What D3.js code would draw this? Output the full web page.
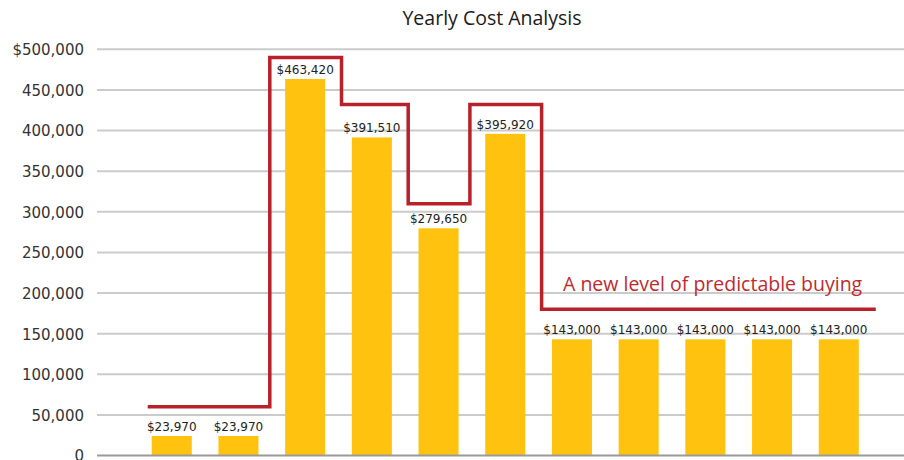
<!DOCTYPE html>
<html>
<head>
<meta charset="utf-8">
<script src="https://cdn.jsdelivr.net/npm/d3@7"></script>
<style>
  body { margin: 0; background: #fff; }
  svg { display: block; }
</style>
</head>
<body>
<div id="chart"></div>
<script>
// Step 1: data
var years = ["Y1", "Y2", "Y3", "Y4", "Y5", "Y6", "Y7", "Y8", "Y9", "Y10", "Y11"];
var costs = [23970, 23970, 463420, 391510, 279650, 395920, 143000, 143000, 143000, 143000, 143000];
// red "budget" step line, one level per year
var levels = [60000, 60000, 490000, 432000, 310000, 432000, 180000, 180000, 180000, 180000, 180000];
var yTicks = [0, 50000, 100000, 150000, 200000, 250000, 300000, 350000, 400000, 450000, 500000];
var yTickLabels = ["0", "50,000", "100,000", "150,000", "200,000", "250,000", "300,000", "350,000", "400,000", "450,000", "$500,000"];

var svgWidth = 904;
var svgHeight = 460;

var svg = d3.select("#chart")
  .append("svg")
  .attr("width", svgWidth)
  .attr("height", svgHeight);

// Step 2: scales
var xScale = d3.scaleBand()
  .domain(years)
  .range([138.4, 872.1])
  .paddingInner(0.4)
  .paddingOuter(0.2);

var yScale = d3.scaleLinear()
  .domain([0, 500000])
  .range([455.5, 49.3]);

// gridlines
svg.append("g")
  .selectAll("line")
  .data(yTicks.slice(1))
  .enter()
  .append("line")
  .attr("x1", 97)
  .attr("x2", svgWidth)
  .attr("y1", d => yScale(d))
  .attr("y2", d => yScale(d))
  .attr("stroke", "#cbcbcb")
  .attr("stroke-width", 2);

// y axis labels (the "0" is clipped by the bottom edge, as in the source)
var yAxis = d3.axisLeft(yScale)
  .tickValues(yTicks)
  .tickSize(0)
  .tickPadding(0)
  .tickFormat((d, i) => yTickLabels[i]);

svg.append("g")
  .attr("transform", "translate(84,0)")
  .call(yAxis)
  .call(g => g.select(".domain").remove())
  .selectAll("text")
  .attr("font-family", "DejaVu Sans, Verdana, sans-serif")
  .attr("font-size", 15)
  .attr("fill", "#333")
  .attr("dy", "0.36em");

// bars
svg.selectAll("rect.bar")
  .data(costs)
  .enter()
  .append("rect")
  .attr("class", "bar")
  .attr("x", (d, i) => xScale(years[i]))
  .attr("y", d => yScale(d))
  .attr("width", xScale.bandwidth())
  .attr("height", d => yScale(0) - yScale(d))
  .attr("fill", "#ffc20e");

// baseline
svg.append("line")
  .attr("x1", 97)
  .attr("x2", svgWidth)
  .attr("y1", yScale(0))
  .attr("y2", yScale(0))
  .attr("stroke", "#9a9a9a")
  .attr("stroke-width", 2);

// value labels
svg.selectAll("text.val")
  .data(costs)
  .enter()
  .append("text")
  .attr("class", "val")
  .attr("x", (d, i) => xScale(years[i]) + xScale.bandwidth() / 2)
  .attr("y", d => yScale(d) - 5)
  .attr("text-anchor", "middle")
  .attr("font-family", "DejaVu Sans, Verdana, sans-serif")
  .attr("font-size", 12)
  .attr("fill", "#222")
  .text(d => "$" + d3.format(",")(d));

// Step 3: red step line, vertical jumps at the band boundaries,
// pushed a little to the lower side so the box hugs the taller bars
var step = xScale.step();
var pts = [];
pts.push([xScale(years[0]) - 4, yScale(levels[0])]);
for (var i = 1; i < levels.length; i++) {
  if (levels[i] === levels[i - 1]) continue;
  var bx = xScale(years[i]) - (step - xScale.bandwidth()) / 2;
  bx += levels[i] > levels[i - 1] ? -2 : 3;
  pts.push([bx, yScale(levels[i - 1])]);
  pts.push([bx, yScale(levels[i])]);
}
var last = years.length - 1;
pts.push([xScale(years[last]) + xScale.bandwidth() + 17, yScale(levels[last])]);

svg.append("path")
  .attr("d", d3.line()(pts))
  .attr("fill", "none")
  .attr("stroke", "#b8202a")
  .attr("stroke-width", 3.5);

// annotation
svg.append("text")
  .attr("x", 563)
  .attr("y", 291)
  .attr("font-family", "Open Sans, Noto Sans, sans-serif")
  .attr("font-size", 19.5)
  .attr("fill", "#bf2a30")
  .text("A new level of predictable buying");

// title
svg.append("text")
  .attr("x", 492)
  .attr("y", 25)
  .attr("text-anchor", "middle")
  .attr("font-family", "Open Sans, Noto Sans, sans-serif")
  .attr("font-size", 19.5)
  .attr("fill", "#1a1a1a")
  .text("Yearly Cost Analysis");
</script>
</body>
</html>
